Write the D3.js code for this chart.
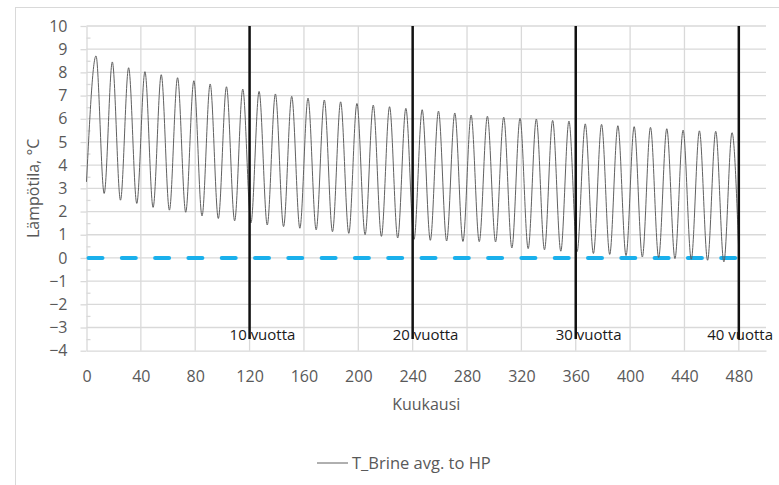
<!DOCTYPE html>
<html lang="fi">
<head>
<meta charset="UTF-8">
<title>T_Brine avg. to HP</title>
<script src="https://cdn.jsdelivr.net/npm/d3@7"></script>
<style>
  body { margin: 0; background: #fff; }
  svg text { font-family: "Open Sans", sans-serif; }
</style>
</head>
<body>
<script>
// values
const startValue = [0, 3.28];
const endValue = [480, 0.2];
// yearly maxima, month 7 of each year
const peakValues = [8.71, 8.45, 8.20, 8.03, 7.90, 7.77, 7.64, 7.50, 7.38, 7.28,
                    7.18, 7.07, 6.97, 6.89, 6.81, 6.73, 6.66, 6.59, 6.52, 6.45,
                    6.39, 6.33, 6.25, 6.16, 6.11, 6.07, 6.02, 5.99, 5.93, 5.90,
                    5.78, 5.76, 5.70, 5.66, 5.63, 5.57, 5.51, 5.48, 5.46, 5.40];
// yearly minima, month 13 of each year
const troughValues = [2.78, 2.49, 2.35, 2.18, 2.06, 1.97, 1.81, 1.70, 1.60, 1.51,
                      1.42, 1.35, 1.28, 1.21, 1.13, 1.06, 1.00, 0.93, 0.86, 0.80,
                      0.76, 0.73, 0.71, 0.70, 0.69, 0.43, 0.40, 0.35, 0.29, 0.27,
                      0.19, 0.15, 0.10, 0.04, 0.02, -0.03, -0.06, -0.10, -0.17];
const peakMonth = 7, troughMonth = 13;

const markerMonths = [120, 240, 360, 480];
const markerLabels = ['10 vuotta', '20 vuotta', '30 vuotta', '40 vuotta'];
const zeroLine = [[0, 0], [480, 0]];

const xTicks = [0, 40, 80, 120, 160, 200, 240, 280, 320, 360, 400, 440, 480];
const yTicks = [-4, -3, -2, -1, 0, 1, 2, 3, 4, 5, 6, 7, 8, 9, 10];
const yMinorTicks = [-3.5, -2.5, -1.5, -0.5, 0.5, 1.5, 2.5, 3.5, 4.5, 5.5, 6.5, 7.5, 8.5, 9.5];

const seriesName = 'T_Brine avg. to HP';
const xTitle = 'Kuukausi';
const yTitle = 'Lämpötila, °C';

const width = 779, height = 485;
const plot = { left: 86.5, right: 766, top: 26, bottom: 350.7 };
const grey = '#595959';
const gridColor = '#d9d9d9';

// series points: start, peaks and troughs in month order, end
const points = [startValue];
peakValues.forEach((v, i) => points.push([i * 12 + peakMonth, v]));
troughValues.forEach((v, i) => points.push([i * 12 + troughMonth, v]));
points.push(endValue);
points.sort((a, b) => a[0] - b[0]);

const svg = d3.select('body').append('svg')
  .attr('width', width)
  .attr('height', height);

// chart area border
svg.append('rect')
  .attr('x', 15.5).attr('y', 7.5)
  .attr('width', 800).attr('height', 500)
  .attr('fill', '#fff')
  .attr('stroke', gridColor);

const x = d3.scaleLinear().domain([0, 500]).range([plot.left, plot.right]);
const y = d3.scaleLinear().domain([-4, 10]).range([plot.bottom, plot.top]);

// gridlines
svg.append('g').selectAll('line')
  .data(yTicks.filter(d => d > -4))
  .join('line')
  .attr('x1', plot.left).attr('x2', plot.right)
  .attr('y1', d => y(d)).attr('y2', d => y(d))
  .attr('stroke', gridColor).attr('stroke-width', 1.3);

svg.append('g').selectAll('line')
  .data(xTicks.filter(d => d > 0))
  .join('line')
  .attr('x1', d => x(d)).attr('x2', d => x(d))
  .attr('y1', plot.top).attr('y2', plot.bottom)
  .attr('stroke', gridColor).attr('stroke-width', 1.3);

// axes
svg.append('g')
  .attr('transform', `translate(${plot.left},0)`)
  .call(d3.axisLeft(y).tickValues(yTicks).tickSize(6).tickPadding(13).tickSizeOuter(0));

svg.append('g')
  .attr('transform', `translate(${plot.left},0)`)
  .call(d3.axisRight(y).tickValues(yMinorTicks).tickSize(4).tickFormat('').tickSizeOuter(0))
  .call(g => g.select('.domain').remove());

svg.append('g')
  .attr('transform', `translate(0,${plot.bottom})`)
  .call(d3.axisBottom(x).tickValues(xTicks).tickSize(0).tickPadding(20).tickSizeOuter(0));

svg.selectAll('.domain').attr('stroke', gridColor).attr('stroke-width', 1.3);
svg.selectAll('.tick line').attr('stroke', gridColor).attr('stroke-width', 1.3);
svg.selectAll('.tick text')
  .attr('fill', grey)
  .style('font-family', '"Open Sans", sans-serif')
  .style('font-size', '16px');

// zero reference line
svg.append('path')
  .datum(zeroLine)
  .attr('d', d3.line().x(d => x(d[0])).y(d => y(d[1])))
  .attr('fill', 'none')
  .attr('stroke', '#1ab0ec')
  .attr('stroke-width', 4)
  .attr('stroke-linecap', 'round')
  .attr('stroke-dasharray', '14,19.3')
  .attr('transform', 'translate(2,0)');

// brine temperature series
svg.append('path')
  .datum(points)
  .attr('d', d3.line().x(d => x(d[0])).y(d => y(d[1])).curve(d3.curveMonotoneX))
  .attr('fill', 'none')
  .attr('stroke', '#606060')
  .attr('stroke-width', 1);

// year markers
svg.append('g').selectAll('line')
  .data(markerMonths)
  .join('line')
  .attr('x1', d => x(d)).attr('x2', d => x(d))
  .attr('y1', y(10)).attr('y2', y(-3.5))
  .attr('stroke', '#111')
  .attr('stroke-width', 2.5);

// labels sit just left of their marker, kept inside the chart area
svg.append('g').selectAll('text')
  .data(markerMonths)
  .join('text')
  .attr('y', y(-3.3))
  .attr('dy', '0.35em')
  .attr('fill', '#1a1a1a')
  .style('font-size', '15px')
  .text((d, i) => markerLabels[i])
  .attr('x', function (d) {
    const w = this.getComputedTextLength();
    return Math.min(x(d) - 20, width - 6 - w);
  });

// axis titles
svg.append('text')
  .attr('x', (plot.left + plot.right) / 2)
  .attr('y', 410)
  .attr('text-anchor', 'middle')
  .attr('fill', grey)
  .style('font-size', '16px')
  .text(xTitle);

svg.append('text')
  .attr('transform', `translate(39,${(plot.top + plot.bottom) / 2}) rotate(-90)`)
  .attr('text-anchor', 'middle')
  .attr('fill', grey)
  .style('font-size', '16px')
  .text(yTitle);

// legend
svg.append('line')
  .attr('x1', 317).attr('x2', 348)
  .attr('y1', 463).attr('y2', 463)
  .attr('stroke', '#606060')
  .attr('stroke-width', 1);

svg.append('text')
  .attr('x', 352)
  .attr('y', 463)
  .attr('dy', '0.35em')
  .attr('fill', grey)
  .style('font-size', '16.5px')
  .text(seriesName);
</script>
</body>
</html>
